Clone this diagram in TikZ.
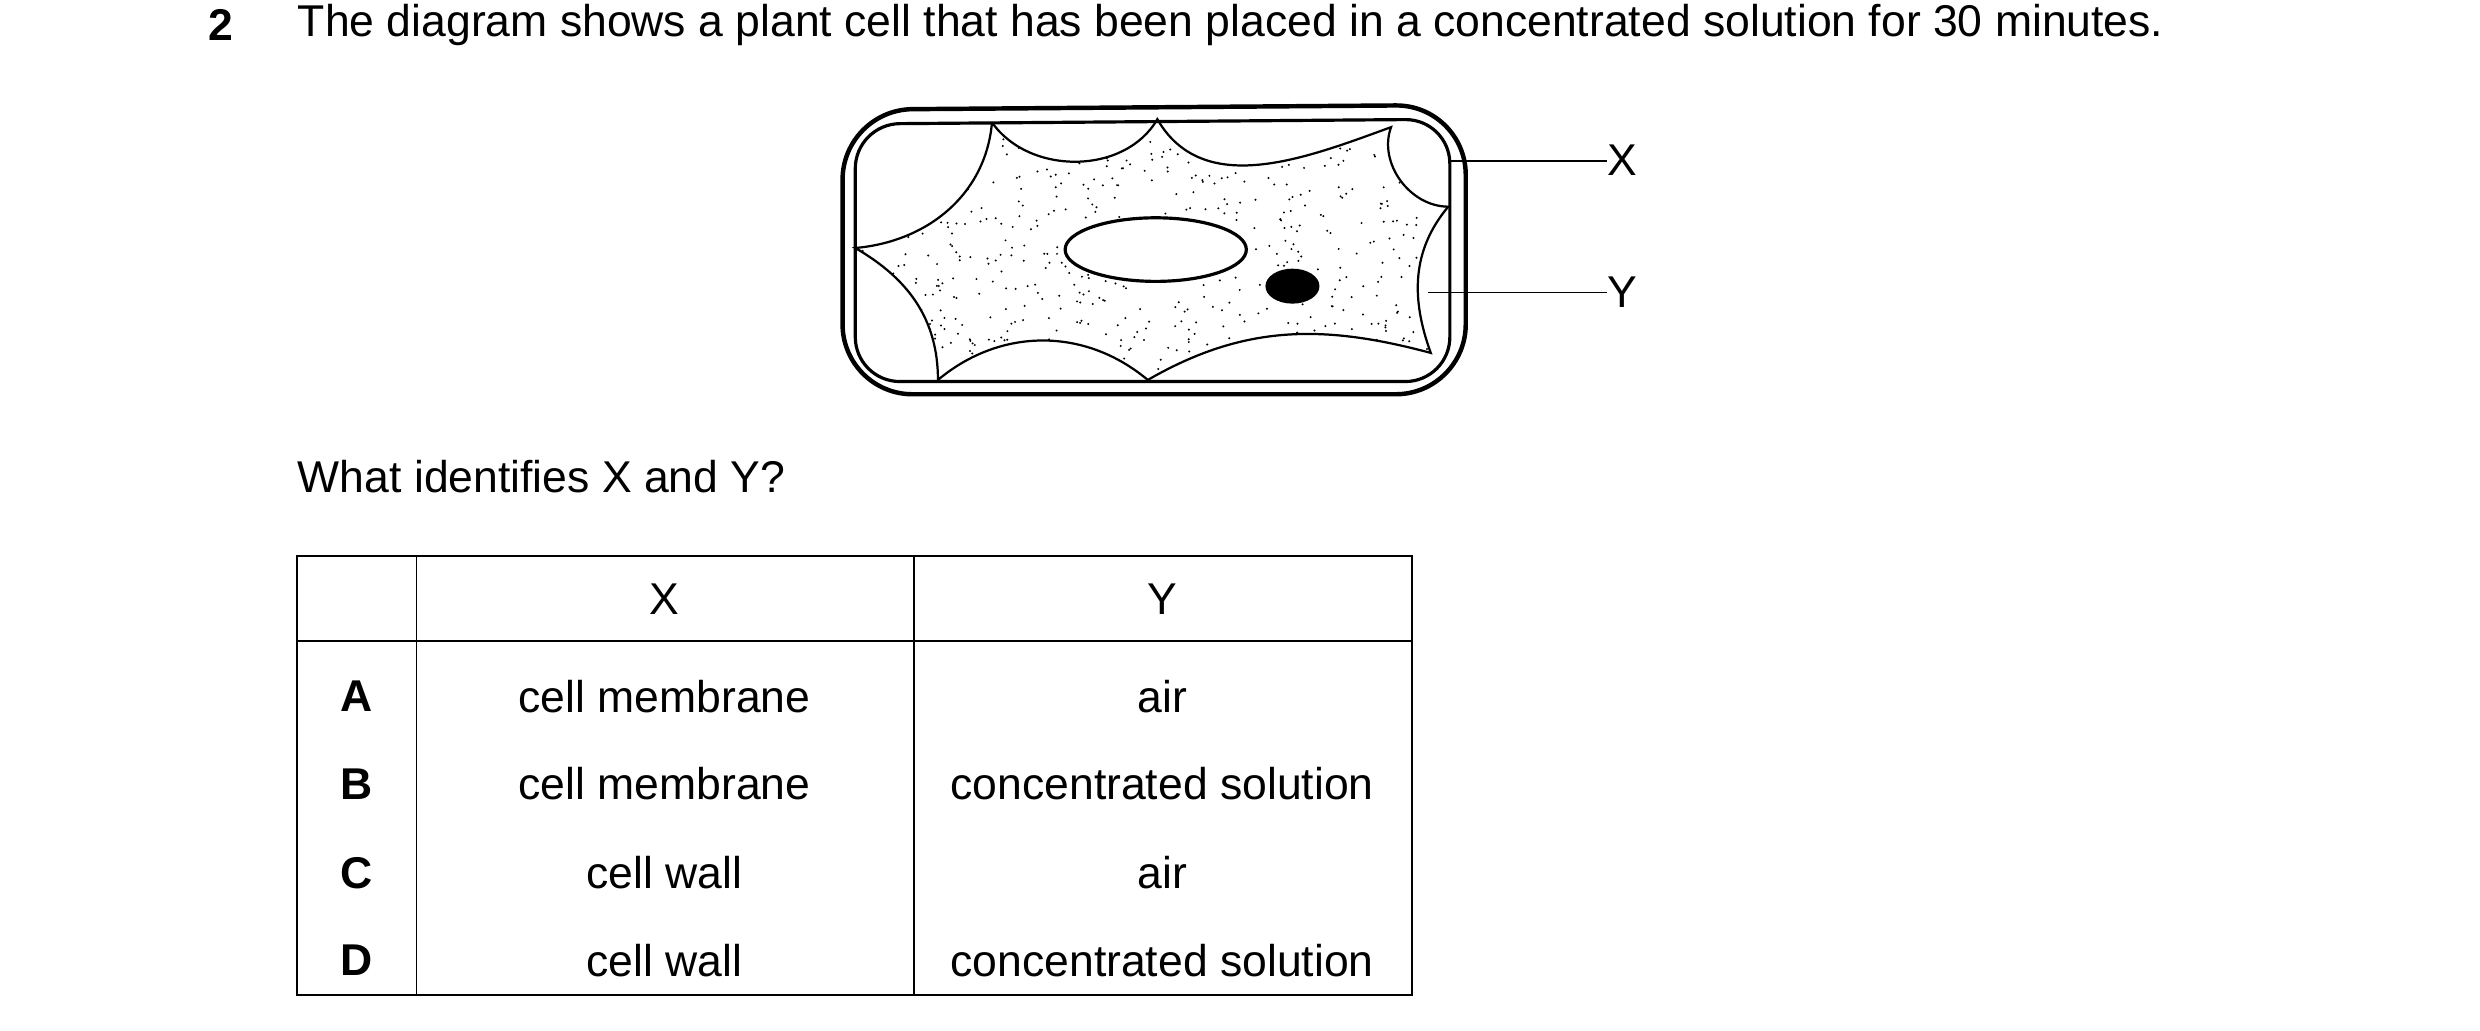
\documentclass[tikz,border=0pt]{standalone}
\usepackage{fontspec}
\setmainfont{Liberation Sans}
\usetikzlibrary{positioning}
\tikzset {
  % text of the question
  txt/.style = {
    anchor = west,
    inner sep = 0,
    font = \fontsize{14}{17}\selectfont
  },
  cell/.style = {
    anchor = center,
    inner sep = 0,
    font = \fontsize{14}{17}\selectfont
  },
  % cell wall and membrane lines
  wall/.style = {
    draw = black,
    line width = 1.4pt
  },
  memb/.style = {
    draw = black,
    line width = 0.7pt
  },
  leader/.style = {
    draw = black,
    line width = 0.6pt
  }
}
\newcommand{\membranepath}{
  (624,77) to[out=-55, in=-120] (728,75)
  to[out=-60, in=-160] (875,80)
  to[out=-110, in=180] (911,130)
  to[out=-130, in=110] (900,222)
  to[out=165, in=30] (722,239)
  to[out=140, in=40] (590,239)
  to[out=90, in=-30] (538,156)
  to[out=5, in=-95] (624,77)
}

\begin{document}
\begin{tikzpicture}[x=0.5pt, y=-0.5pt]
  \useasboundingbox (0,0) rectangle (1560,648);

  \node[txt, font=\fontsize{14}{17}\selectfont\bfseries] (qnum) at (131,16) {2};
  \node[txt] (title) at (187,16)
    {The diagram shows a plant cell that has been placed in a concentrated solution for 30 minutes.};

  % cell wall
  \draw[wall, rounded corners=22pt] (530,69) -- (922,66) -- (922,248) -- (530,248) -- cycle;
  \draw[memb, line width=1pt, rounded corners=14pt] (538,78) -- (912,75) -- (912,240) -- (538,240) -- cycle;

  % cytoplasm with dots
  \begin{scope}
    \clip \membranepath;
    \pgfmathsetseed{7}
    \foreach \i in {1,...,650} {
      \pgfmathsetmacro\px{540+rnd*372}
      \pgfmathsetmacro\py{76+rnd*165}
      \fill (\px,\py) circle (0.35pt);
    }
  \end{scope}
  \draw[memb] \membranepath;

  \draw[wall, line width=1pt, fill=white] (727,157) ellipse (57 and 20);
  \fill (813,180) ellipse (17 and 11);

  % labels
  \coordinate (xend) at (912,101);
  \coordinate (yend) at (898,184);
  \node[txt] (labx) at (1011,101) {X};
  \node[txt] (laby) at (1011,184) {Y};
  \draw[leader] (xend) -- (labx.west);
  \draw[leader] (yend) -- (laby.west);

  \node[txt] (ask) at (187,300) {What identifies X and Y?};

  % table
  \draw[line width=0.6pt] (187,350) rectangle (888,626);
  \draw[line width=0.6pt] (187,403) -- (888,403);
  \draw[line width=0.6pt] (262,350) -- (262,626);
  \draw[line width=0.6pt] (575,350) -- (575,626);

  \node[cell] (hx) at (418,377) {X};
  \node[cell] (hy) at (731,377) {Y};
  \foreach \y/\k/\a/\b in {438/A/cell membrane/air,
                           493/B/cell membrane/concentrated solution,
                           549/C/cell wall/air,
                           604/D/cell wall/concentrated solution} {
    \node[cell, font=\fontsize{14}{17}\selectfont\bfseries] at (224,\y) {\k};
    \node[cell] at (418,\y) {\a};
    \node[cell] at (731,\y) {\b};
  }
\end{tikzpicture}
\end{document}
